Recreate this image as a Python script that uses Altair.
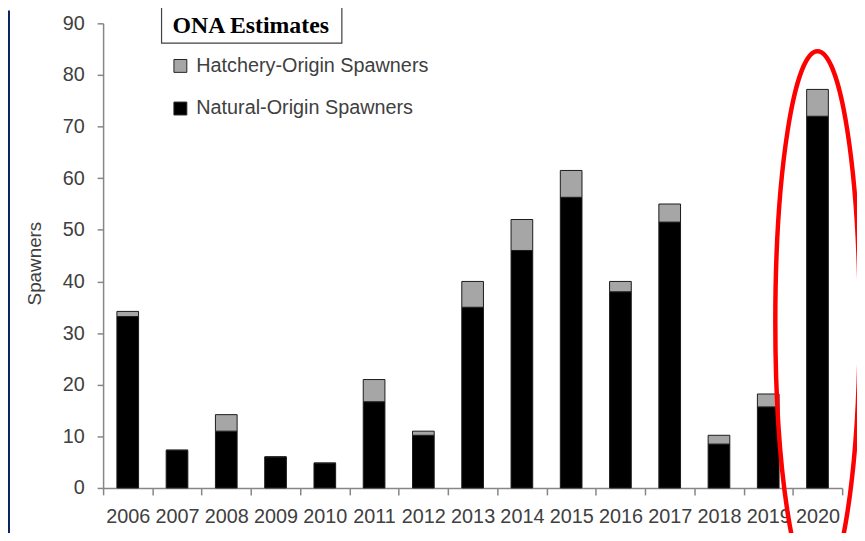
import altair as alt
import pandas as pd

years = [str(y) for y in range(2006, 2021)]
natural = [33.2, 7.3, 11.0, 6.0, 4.8, 16.7, 10.2, 35.0, 46.0, 56.3, 38.0, 51.5, 8.5, 15.7, 72.0]
hatchery = [1.0, 0.0, 3.2, 0.0, 0.0, 4.3, 0.8, 5.0, 6.0, 5.2, 2.0, 3.5, 1.7, 2.5, 5.2]
series = ["Hatchery-Origin Spawners", "Natural-Origin Spawners"]
colors = ["#a6a6a6", "#000000"]

rows = []
for y, n, h in zip(years, natural, hatchery):
    rows.append({"year": y, "series": series[1], "value": n, "ord": 0})
    rows.append({"year": y, "series": series[0], "value": h, "ord": 1})
df = pd.DataFrame(rows)

x_enc = alt.X("year:N", sort=years,
              scale=alt.Scale(paddingInner=0, paddingOuter=0),
              axis=alt.Axis(title=None, labelAngle=0, labelFontSize=20, labelColor="#404040",
                            labelFont="Liberation Sans", domainColor="#868686", tickColor="#868686",
                            tickSize=7, tickBand="extent", tickExtra=True, labelPadding=12,
                            domainWidth=1.5, tickWidth=1.5))

bars = alt.Chart(df).mark_bar(stroke="#1a1a1a", strokeWidth=1, width={"band": 0.44}).encode(
    x=x_enc,
    y=alt.Y("value:Q", stack="zero",
            scale=alt.Scale(domain=[0, 90], nice=False),
            axis=alt.Axis(title="Spawners", values=list(range(0, 100, 10)), grid=False,
                          labelFontSize=20, labelColor="#404040", labelFont="Liberation Sans",
                          domainColor="#868686", tickColor="#868686", tickSize=6,
                          labelPadding=13, domainWidth=1.5, tickWidth=1.5,
                          titleFont="Liberation Sans", titleFontSize=19, titleFontWeight="normal",
                          titleColor="#404040", titleX=-69, titleY=242, titleAngle=-90,
                          titleAlign="center", titleBaseline="middle")),
    color=alt.Color("series:N", scale=alt.Scale(domain=series, range=colors),
                    legend=alt.Legend(title=None, orient="none", legendX=68, legendY=33,
                                      symbolType="square", symbolSize=169,
                                      symbolStrokeColor="#222222", symbolStrokeWidth=1,
                                      labelFontSize=20, labelFont="Liberation Sans",
                                      labelColor="#404040", labelOffset=6, rowPadding=23,
                                      labelLimit=400, padding=0)),
    order=alt.Order("ord:Q"),
)

ell_df = pd.DataFrame({"year": ["2020"], "value": [32.2]})
ellipse = alt.Chart(ell_df).mark_point(
    shape="M0,-1 A0.156,1 0 1,0 0,1 A0.156,1 0 1,0 0,-1 Z",
    size=298116, filled=False, stroke="#ff0000", strokeWidth=4.5, opacity=1,
).encode(x=alt.X("year:N", sort=years), y=alt.Y("value:Q"))

box = alt.Chart(pd.DataFrame({"a": [0]})).mark_rect(
    fill="white", stroke="#404040", strokeWidth=1.2
).encode(x=alt.value(59), x2=alt.value(241), y=alt.value(-18), y2=alt.value(20))

box_text = alt.Chart(pd.DataFrame({"t": ["ONA Estimates"]})).mark_text(
    font="Liberation Serif", fontSize=24, fontWeight="bold", color="#000000",
    align="center", baseline="alphabetic"
).encode(text="t:N", x=alt.value(149), y=alt.value(10))

strip = alt.Chart(pd.DataFrame({"a": [0]})).mark_rect(fill="#0a2463").encode(
    x=alt.value(-96), x2=alt.value(-94), y=alt.value(-13), y2=alt.value(520))

chart = alt.layer(bars, ellipse, box, box_text, strip).properties(
    width=746, height=469,
    autosize=alt.AutoSizeParams(type="none"),
    padding={"left": 96, "top": 13, "right": 15, "bottom": 43},
    background="white",
).configure_view(stroke=None)

chart.save("out.html", embed_options={"renderer": "svg", "actions": False})
